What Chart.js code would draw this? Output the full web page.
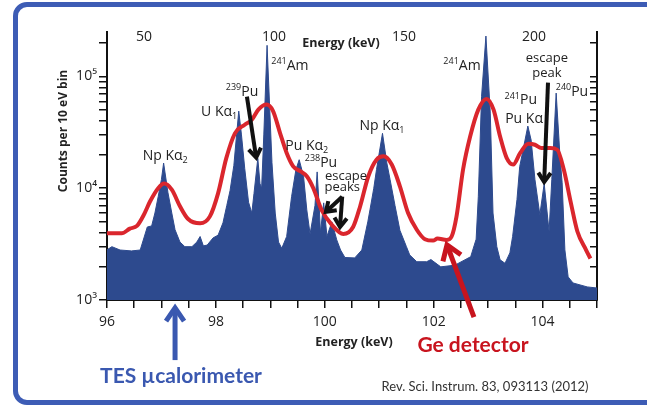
<!DOCTYPE html>
<html>
<head>
<meta charset="utf-8">
<script src="https://cdn.jsdelivr.net/npm/chart.js@4.4.1/dist/chart.umd.min.js"></script>
<style>
  html, body { margin: 0; padding: 0; background: #fff; }
  #wrap { position: relative; width: 647px; height: 406px; overflow: hidden; }
  #frame { position: absolute; left: 13px; top: 2px; width: 700px; height: 393px;
           border: 5px solid #3d5cb5; border-radius: 14px; pointer-events: none; }
  canvas { position: absolute; left: 0; top: 0; }
</style>
</head>
<body>
<div id="wrap">
  <canvas id="spectrum" width="647" height="406"></canvas>
  <div id="frame"></div>
</div>
<script>
// TES microcalorimeter spectrum (energy keV, counts per 10 eV bin)
const tesEnergy = [96.00, 96.09, 96.24, 96.45, 96.61, 96.74, 96.82, 96.88, 96.94, 97.00,
  97.04, 97.12, 97.19, 97.25, 97.34, 97.43, 97.56, 97.65, 97.71, 97.77,
  97.84, 97.95, 98.04, 98.13, 98.20, 98.26, 98.33, 98.38, 98.42,
  98.47, 98.53, 98.60, 98.66, 98.70, 98.77, 98.81, 98.84, 98.88, 98.94,
  98.99, 99.03, 99.09, 99.15, 99.21, 99.30, 99.39, 99.47, 99.53, 99.61,
  99.67, 99.73, 99.82, 99.86, 99.90, 99.92, 99.98, 100.04, 100.13, 100.22,
  100.29, 100.37, 100.55, 100.68, 100.79, 100.83, 100.90,
  100.95, 101.06, 101.14, 101.20, 101.29, 101.38, 101.50, 101.56, 101.69, 101.87,
  101.95, 102.13, 102.39, 102.68, 102.78, 102.82, 102.88, 102.96, 103.04, 103.09,
  103.16, 103.22, 103.31, 103.40, 103.45, 103.53, 103.58, 103.73, 103.79, 103.86,
  103.95, 104.03, 104.12, 104.17, 104.25, 104.32, 104.36, 104.41, 104.47, 104.56,
  104.82, 105.00];
const tesCounts = [2810, 3000, 2800, 2750, 2800, 4500, 4600, 6000, 8400, 12000,
  16800, 9100, 6000, 4250, 3300, 3000, 3000, 3300, 3700, 3050,
  3100, 3600, 3800, 4900, 7000, 9500, 16000, 30000, 49000,
  30000, 15000, 7500, 6000, 9000, 18500, 11000, 10000, 30000, 190000,
  50000, 17000, 6000, 3300, 2900, 3700, 8400, 14700, 18000, 12800,
  6400, 3900, 7000, 14000, 6500, 4000, 7400, 3700, 5000, 3450,
  2800, 2400, 2380, 2800, 5000, 6400, 10000,
  14700, 31000, 16800, 11900, 7000, 4200, 3000, 2530, 2200, 2200,
  2300, 1980, 2050, 2440, 3500, 8400, 66500, 230000, 47000, 6000,
  3000, 2290, 2130, 2640, 3700, 7900, 15600, 36000, 27000, 12000,
  5800, 11000, 4100, 12000, 71000, 19300, 11200, 2810, 1610, 1420,
  1310, 1280];

// Ge detector spectrum, same axes
const geEnergy = [96.00, 96.27, 96.42, 96.55, 96.67, 96.79, 96.94, 97.05, 97.19, 97.34,
  97.49, 97.71, 97.89, 98.04, 98.19, 98.35, 98.53, 98.66, 98.78, 98.93,
  99.05, 99.18, 99.30, 99.42, 99.55, 99.67, 99.79, 99.94, 100.13, 100.34,
  100.52, 100.65, 100.80, 100.95, 101.08, 101.23, 101.38, 101.53, 101.69, 101.84,
  101.99, 102.07, 102.24, 102.33, 102.42, 102.54, 102.67, 102.82, 102.97, 103.10,
  103.22, 103.34, 103.46, 103.59, 103.74, 103.86, 103.98, 104.14, 104.27, 104.39,
  104.52, 104.64, 104.80, 104.88];
const geCounts = [3950, 3950, 4350, 4600, 5700, 7600, 10000, 11000, 9700, 6900,
  5300, 4850, 5600, 9000, 18500, 31000, 37000, 41000, 50500, 56000,
  49000, 31000, 20700, 15700, 14200, 12800, 10000, 6400, 4700, 3900,
  4500, 6900, 12800, 18000, 19300, 16300, 10400, 6000, 4250, 3500,
  3400, 3550, 3450, 3700, 5600, 14700, 29000, 50500, 63000, 50500,
  29000, 18700, 16300, 20700, 25000, 24500, 22900, 22900, 22100, 14700,
  7400, 4100, 2800, 2350];

// ticks
const energyTicks = [96, 96.5, 97, 97.5, 98, 98.5, 99, 99.5, 100, 100.5,
  101, 101.5, 102, 102.5, 103, 103.5, 104, 104.5, 105];
const energyLabels = [96, 98, 100, 102, 104];
const channelTicks = [50, 100, 150, 200];
const countTicks = [1000, 2000, 3000, 4000, 5000, 6000, 7000, 8000, 9000,
  10000, 20000, 30000, 40000, 50000, 60000, 70000, 80000, 90000, 100000, 200000];
const countLabels = { 1000: '10\u00B3', 10000: '10\u2074', 100000: '10\u2075' };

// peak labels [energy, counts, parts]
const peakLabels = [
  [97.07, 19500, [['Np K\u03B1', ''], ['2', 'sub']]],
  [98.06, 48500, [['U K\u03B1', ''], ['1', 'sub']]],
  [98.48, 73000, [['239', 'sup'], ['Pu', '']]],
  [99.36, 125000, [['241', 'sup'], ['Am', '']]],
  [99.67, 24000, [['Pu K\u03B1', ''], ['2', 'sub']]],
  [99.93, 16900, [['238', 'sup'], ['Pu', '']]],
  [100.39, 12900, [['escape', '']]],
  [100.32, 10300, [['peaks', '']]],
  [101.05, 36400, [['Np K\u03B1', ''], ['1', 'sub']]],
  [102.52, 125000, [['241', 'sup'], ['Am', '']]],
  [104.08, 145000, [['escape', '']]],
  [104.08, 106000, [['peak', '']]],
  [104.54, 73000, [['240', 'sup'], ['Pu', '']]],
  [103.60, 61000, [['241', 'sup'], ['Pu', '']]],
  [103.66, 42000, [['Pu K\u03B1', '']]]
];
// arrows [fromE, fromC, toE, toC]
const blackArrows = [
  [98.57, 66000, 98.74, 18800],
  [100.32, 8400, 100.02, 6150],
  [100.32, 8400, 100.28, 4500],
  [104.10, 88000, 104.03, 11400]
];
const geArrow = [102.74, 704, 102.245, 3110];
const tesArrow = [97.25, 290, 97.25, 850];

const blue = '#2d4a8e';
const red = '#da262d';
const frameBlue = '#3a58b0';

function drawRich(ctx, parts, cx, cy, size, color) {
  const fontOf = (m) => (m ? Math.round(size * 0.64) : size) + 'px "Open Sans"';
  let total = 0;
  parts.forEach(([t, m]) => { ctx.font = fontOf(m); total += ctx.measureText(t).width; });
  let xx = cx - total / 2;
  ctx.fillStyle = color;
  ctx.textAlign = 'left';
  ctx.textBaseline = 'middle';
  parts.forEach(([t, m]) => {
    ctx.font = fontOf(m);
    const dy = m === 'sup' ? -size * 0.3 : m === 'sub' ? size * 0.32 : 0;
    ctx.fillText(t, xx, cy + dy);
    xx += ctx.measureText(t).width;
  });
}

function drawArrow(ctx, x1, y1, x2, y2, color, w, head) {
  const a = Math.atan2(y2 - y1, x2 - x1);
  ctx.strokeStyle = color;
  ctx.lineWidth = w;
  ctx.lineCap = 'butt';
  ctx.lineJoin = 'miter';
  ctx.beginPath();
  ctx.moveTo(x1, y1);
  ctx.lineTo(x2 - Math.cos(a) * w * 0.6, y2 - Math.sin(a) * w * 0.6);
  ctx.stroke();
  ctx.beginPath();
  ctx.moveTo(x2 - head * Math.cos(a - 0.6), y2 - head * Math.sin(a - 0.6));
  ctx.lineTo(x2, y2);
  ctx.lineTo(x2 - head * Math.cos(a + 0.6), y2 - head * Math.sin(a + 0.6));
  ctx.stroke();
}

const notes = {
  id: 'notes',
  afterDatasetsDraw(chart) {
    const { ctx, scales: { x, y } } = chart;
    ctx.save();
    peakLabels.forEach(([e, c, parts]) => {
      const sz = parts[0][0].startsWith('escape') || parts[0][0] === 'peak' || parts[0][0] === 'peaks' ? 13 : 14;
      drawRich(ctx, parts, x.getPixelForValue(e), y.getPixelForValue(c), sz, '#222');
    });
    blackArrows.forEach(([e1, c1, e2, c2]) => {
      drawArrow(ctx, x.getPixelForValue(e1), y.getPixelForValue(c1),
        x.getPixelForValue(e2), y.getPixelForValue(c2), '#111', 4, 11);
    });
    ctx.restore();
  },
  afterDraw(chart) {
    const { ctx, chartArea: area, scales: { x, y, xTop } } = chart;
    ctx.save();
    ctx.fillStyle = '#222';
    ctx.textAlign = 'center';
    ctx.textBaseline = 'middle';
    // top (Ge channel) axis labels, placed by the top scale
    ctx.font = '14px "Open Sans"';
    channelTicks.forEach((v) => ctx.fillText(String(v), xTop.getPixelForValue(v), area.top + 5));
    ctx.font = 'bold 12.5px "Open Sans"';
    ctx.fillText('Energy (keV)', area.left + 234, area.top + 11);
    ctx.fillText('Energy (keV)', (area.left + area.right) / 2 + 2, area.bottom + 42);
    ctx.save();
    ctx.translate(area.left - 43, area.top + 99);
    ctx.rotate(-Math.PI / 2);
    ctx.font = 'bold 12px "Open Sans"';
    ctx.fillText('Counts per 10 eV bin', 0, 0);
    ctx.restore();

    drawArrow(ctx, x.getPixelForValue(geArrow[0]), y.getPixelForValue(geArrow[1]),
      x.getPixelForValue(geArrow[2]), y.getPixelForValue(geArrow[3]), '#c8141e', 5, 17);
    drawArrow(ctx, x.getPixelForValue(tesArrow[0]), y.getPixelForValue(tesArrow[1]),
      x.getPixelForValue(tesArrow[2]), y.getPixelForValue(tesArrow[3]), frameBlue, 5, 16);

    ctx.font = 'bold 21px Lato';
    ctx.fillStyle = frameBlue;
    ctx.fillText('TES \u00B5calorimeter', area.left + 74, area.bottom + 76);
    ctx.fillStyle = '#c8141e';
    ctx.fillText('Ge detector', area.left + 366, area.bottom + 45);
    ctx.font = '13px Lato';
    ctx.fillStyle = '#333';
    ctx.fillText('Rev. Sci. Instrum. 83, 093113 (2012)', area.left + 378, area.bottom + 87);
    ctx.restore();
  }
};

const axisColor = '#111';
const tickFont = { family: 'Open Sans', size: 14 };

new Chart(document.getElementById('spectrum'), {
  type: 'line',
  data: {
    datasets: [
      {
        label: 'Ge detector',
        data: geEnergy.map((e, i) => ({ x: e, y: geCounts[i] })),
        borderColor: red,
        borderWidth: 4,
        pointRadius: 0,
        fill: false,
        cubicInterpolationMode: 'monotone',
        order: 1
      },
      {
        label: 'TES microcalorimeter',
        data: tesEnergy.map((e, i) => ({ x: e, y: tesCounts[i] })),
        borderColor: blue,
        borderWidth: 1,
        backgroundColor: blue,
        pointRadius: 0,
        fill: 'start',
        tension: 0,
        order: 2
      }
    ]
  },
  options: {
    responsive: false,
    animation: false,
    devicePixelRatio: 1,
    layout: { padding: 0 },
    plugins: { legend: { display: false }, tooltip: { enabled: false } },
    scales: {
      x: {
        type: 'linear', position: 'bottom', min: 96, max: 105,
        afterBuildTicks: (s) => { s.ticks = energyTicks.map((v) => ({ value: v })); },
        afterFit: (s) => { s.height = 106; },
        grid: { drawOnChartArea: false, color: axisColor, tickLength: 8, lineWidth: 1.5 },
        border: { color: axisColor, width: 2 },
        ticks: {
          autoSkip: false, maxRotation: 0, padding: 6, color: '#222', font: tickFont,
          callback: (v) => (energyLabels.includes(v) ? String(v) : '')
        }
      },
      xTop: {
        type: 'linear', position: 'top', min: 35.8, max: 224.2,
        afterBuildTicks: (s) => { s.ticks = channelTicks.map((v) => ({ value: v })); },
        afterFit: (s) => { s.height = 32; },
        grid: { display: false },
        border: { display: false },
        ticks: { display: false }
      },
      y: {
        type: 'logarithmic', position: 'left', min: 1000, max: 250000,
        afterBuildTicks: (s) => { s.ticks = countTicks.map((v) => ({ value: v })); },
        afterFit: (s) => { s.width = 107; },
        grid: { drawOnChartArea: false, color: axisColor, tickLength: 8, lineWidth: 1.5 },
        border: { color: axisColor, width: 2 },
        ticks: {
          autoSkip: false, padding: 2, color: '#222', font: tickFont,
          callback: (v) => countLabels[v] || ''
        }
      },
      yRight: {
        type: 'logarithmic', position: 'right', min: 1000, max: 250000,
        afterBuildTicks: (s) => { s.ticks = countTicks.map((v) => ({ value: v })); },
        afterFit: (s) => { s.width = 50; },
        grid: { drawOnChartArea: false, color: axisColor, tickLength: -7, lineWidth: 1.5 },
        border: { color: axisColor, width: 2 },
        ticks: { autoSkip: false, callback: () => '' }
      }
    }
  },
  plugins: [notes]
});
</script>
</body>
</html>
